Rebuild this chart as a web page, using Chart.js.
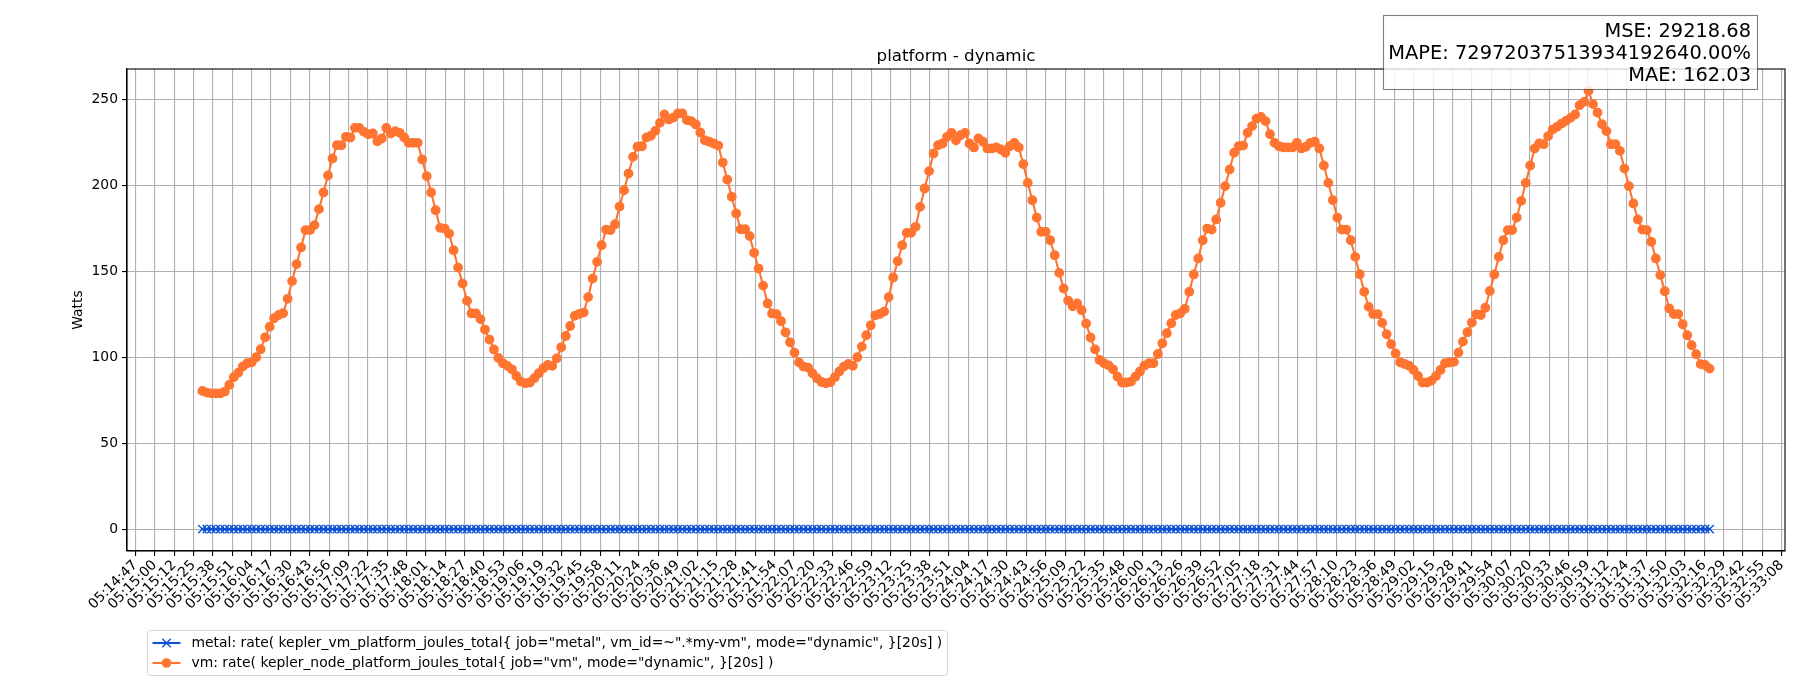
<!DOCTYPE html>
<html>
<head>
<meta charset="utf-8">
<title>platform - dynamic</title>
<script src="https://cdn.jsdelivr.net/npm/chart.js@4.4.1/dist/chart.umd.min.js"></script>
<style>
  html, body { margin: 0; padding: 0; background: #fff; }
  canvas { display: block; }
</style>
</head>
<body>
<canvas id="chart" width="1800" height="700"></canvas>
<script>
// Both series come from the same range query: one sample every 3 s
const sampleStart = '05:15:31.8';
const sampleStep = 3;

// vm: rate(kepler_node_platform_joules_total) in Watts
const vmWatts = [
    80.4, 79.4, 79, 79, 79, 80, 83.9, 88.4, 91, 94.6, 96.5, 97, 100, 104.7, 111.6, 117.8, 122.7, 124.6, 125.6, 134,
    144.3, 154.2, 163.9, 174, 174, 176.9, 186.2, 195.9, 205.8, 215.7, 223.4, 223.4, 228.3, 227.9, 233.5, 233.5, 231.2, 229.8, 230.2, 225.7,
    227.3, 233.5, 230.2, 231.6, 230.6, 227.9, 224.8, 224.8, 224.8, 215.1, 205.4, 195.9, 185.6, 175.3, 174.9, 172, 162.3, 152.2, 142.9, 132.8,
    125.5, 125.5, 122.2, 116.1, 110.3, 104.5, 99.6, 96.5, 95, 93, 89.1, 85.8, 84.9, 85.3, 87.8, 90.7, 93.6, 95.5, 95, 99.4,
    105.8, 112.4, 118.2, 124.1, 125.2, 126, 135, 145.8, 155.5, 165.2, 174.3, 174, 177.4, 187.7, 197.2, 206.9, 216.6, 222.5, 222.8, 227.9,
    228.9, 231.8, 236.4, 241.3, 238.4, 239.5, 241.9, 241.9, 238, 237.4, 235.5, 230.8, 226.3, 225.4, 224.4, 223.2, 213.3, 203.4, 193.4, 183.7,
    174.5, 174.5, 170.5, 160.8, 151.6, 141.7, 131.3, 125.5, 125.1, 121, 114.5, 108.7, 102.7, 97, 94.6, 94, 90.7, 87.8, 85.6, 84.9,
    85.5, 88.4, 91.7, 94.6, 96.1, 95, 100, 106.2, 112.8, 118.6, 124.4, 125.2, 126.6, 135, 146.4, 155.9, 165.2, 172.4, 172.4, 175.9,
    187.5, 198.2, 208.3, 218.6, 223.4, 224.4, 228.3, 230.6, 226.3, 229.2, 230.6, 224.4, 222.1, 227.3, 225.4, 221.5, 221.5, 222.1, 220.9, 219,
    222.8, 224.8, 222.1, 212.4, 201.5, 191.4, 181.3, 173, 173, 168.1, 159.4, 149.1, 140, 133, 129.7, 131.3, 127.4, 119.6, 111.5, 104.6,
    98.4, 96.5, 95.3, 93, 88.7, 85.3, 85.3, 85.8, 88.7, 91.7, 95.1, 96.5, 96.5, 101.9, 108.1, 114, 119.8, 124.6, 125.6, 128.2,
    138.1, 148.2, 157.5, 168.1, 174.9, 174.3, 180.2, 189.9, 199.6, 209.3, 219, 222.8, 223.2, 230.6, 234.5, 238.9, 239.9, 237.4, 229.8, 224.8,
    222.8, 222.1, 222.1, 222.1, 224.8, 221.5, 222.5, 224.8, 225.4, 221.5, 211.6, 201.5, 191.4, 181.3, 174.3, 174.3, 168.1, 158.4, 148.3, 138.1,
    129.3, 125.1, 125.1, 120, 113.4, 107.6, 102.2, 97.1, 96.1, 95.1, 92.6, 89.1, 85.3, 85.3, 86.4, 89.1, 92.6, 96.5, 96.9, 97.3,
    102.7, 109.1, 114.6, 120.2, 125, 124.6, 128.8, 138.6, 148.2, 158.4, 168.1, 174, 174, 181.3, 191, 201.5, 211.6, 221.5, 224.4, 224,
    228.7, 232.5, 234.1, 236, 237.6, 239.3, 241.3, 246.7, 248.6, 255, 247.3, 242.4, 235.6, 231.6, 224, 224, 220.1, 209.8, 199.6, 189.5,
    180.2, 174.3, 174, 167.2, 157.5, 147.8, 138.4, 128.4, 125.1, 125.1, 119.2, 112.8, 107, 101.8, 96, 95.5, 93.4
];

// metal: rate(kepler_vm_platform_joules_total) in Watts (flat zero)
const metalWatts = [
    0, 0, 0, 0, 0, 0, 0, 0, 0, 0, 0, 0, 0, 0, 0, 0, 0, 0, 0, 0,
    0, 0, 0, 0, 0, 0, 0, 0, 0, 0, 0, 0, 0, 0, 0, 0, 0, 0, 0, 0,
    0, 0, 0, 0, 0, 0, 0, 0, 0, 0, 0, 0, 0, 0, 0, 0, 0, 0, 0, 0,
    0, 0, 0, 0, 0, 0, 0, 0, 0, 0, 0, 0, 0, 0, 0, 0, 0, 0, 0, 0,
    0, 0, 0, 0, 0, 0, 0, 0, 0, 0, 0, 0, 0, 0, 0, 0, 0, 0, 0, 0,
    0, 0, 0, 0, 0, 0, 0, 0, 0, 0, 0, 0, 0, 0, 0, 0, 0, 0, 0, 0,
    0, 0, 0, 0, 0, 0, 0, 0, 0, 0, 0, 0, 0, 0, 0, 0, 0, 0, 0, 0,
    0, 0, 0, 0, 0, 0, 0, 0, 0, 0, 0, 0, 0, 0, 0, 0, 0, 0, 0, 0,
    0, 0, 0, 0, 0, 0, 0, 0, 0, 0, 0, 0, 0, 0, 0, 0, 0, 0, 0, 0,
    0, 0, 0, 0, 0, 0, 0, 0, 0, 0, 0, 0, 0, 0, 0, 0, 0, 0, 0, 0,
    0, 0, 0, 0, 0, 0, 0, 0, 0, 0, 0, 0, 0, 0, 0, 0, 0, 0, 0, 0,
    0, 0, 0, 0, 0, 0, 0, 0, 0, 0, 0, 0, 0, 0, 0, 0, 0, 0, 0, 0,
    0, 0, 0, 0, 0, 0, 0, 0, 0, 0, 0, 0, 0, 0, 0, 0, 0, 0, 0, 0,
    0, 0, 0, 0, 0, 0, 0, 0, 0, 0, 0, 0, 0, 0, 0, 0, 0, 0, 0, 0,
    0, 0, 0, 0, 0, 0, 0, 0, 0, 0, 0, 0, 0, 0, 0, 0, 0, 0, 0, 0,
    0, 0, 0, 0, 0, 0, 0, 0, 0, 0, 0, 0, 0, 0, 0, 0, 0, 0, 0, 0,
    0, 0, 0, 0, 0, 0, 0, 0, 0, 0, 0, 0, 0, 0, 0, 0, 0
];

// x tick labels (evenly spaced between first and last)
const xTickLabels = [
    '05:14:47', '05:15:00', '05:15:12', '05:15:25', '05:15:38', '05:15:51', '05:16:04', '05:16:17', '05:16:30', '05:16:43',
    '05:16:56', '05:17:09', '05:17:22', '05:17:35', '05:17:48', '05:18:01', '05:18:14', '05:18:27', '05:18:40', '05:18:53',
    '05:19:06', '05:19:19', '05:19:32', '05:19:45', '05:19:58', '05:20:11', '05:20:24', '05:20:36', '05:20:49', '05:21:02',
    '05:21:15', '05:21:28', '05:21:41', '05:21:54', '05:22:07', '05:22:20', '05:22:33', '05:22:46', '05:22:59', '05:23:12',
    '05:23:25', '05:23:38', '05:23:51', '05:24:04', '05:24:17', '05:24:30', '05:24:43', '05:24:56', '05:25:09', '05:25:22',
    '05:25:35', '05:25:48', '05:26:00', '05:26:13', '05:26:26', '05:26:39', '05:26:52', '05:27:05', '05:27:18', '05:27:31',
    '05:27:44', '05:27:57', '05:28:10', '05:28:23', '05:28:36', '05:28:49', '05:29:02', '05:29:15', '05:29:28', '05:29:41',
    '05:29:54', '05:30:07', '05:30:20', '05:30:33', '05:30:46', '05:30:59', '05:31:12', '05:31:24', '05:31:37', '05:31:50',
    '05:32:03', '05:32:16', '05:32:29', '05:32:42', '05:32:55', '05:33:08'
];
const yTickValues = [0, 50, 100, 150, 200, 250];

const seriesNames = [
    'metal: rate( kepler_vm_platform_joules_total{ job="metal", vm_id=~".*my-vm", mode="dynamic", }[20s] )',
    'vm: rate( kepler_node_platform_joules_total{ job="vm", mode="dynamic", }[20s] )'
];
const statLines = ['MSE: 29218.68', 'MAPE: 72972037513934192640.00%', 'MAE: 162.03'];
const chartTitle = 'platform - dynamic';
const yTitle = 'Watts';

const FONT = '"DejaVu Sans", sans-serif';
const BLUE = '#0f52d4';
const ORANGE = '#ff7430';

function toSeconds(hms) {
    const parts = hms.split(':');
    return (+parts[0]) * 3600 + (+parts[1]) * 60 + parseFloat(parts[2]);
}

function toPoints(values) {
    const t0 = toSeconds(sampleStart);
    return values.map((v, i) => ({ x: t0 + i * sampleStep, y: v }));
}

// matplotlib-like autoscale: 5% margins around the data
const tFirst = toSeconds(sampleStart);
const tLast = tFirst + (vmWatts.length - 1) * sampleStep;
const xMargin = (tLast - tFirst) * 0.05;
const yLow = Math.min(...vmWatts, ...metalWatts);
const yHigh = Math.max(...vmWatts, ...metalWatts);
const yMargin = (yHigh - yLow) * 0.05;

const tickFirst = toSeconds(xTickLabels[0]);
const tickLast = toSeconds(xTickLabels[xTickLabels.length - 1]);
const xTickValues = xTickLabels.map((_, i) => tickFirst + i * (tickLast - tickFirst) / (xTickLabels.length - 1));

// Frame, title, axis label, stats box and legend, drawn like matplotlib
const decorations = {
    id: 'decorations',
    afterDraw(chart) {
        const ctx = chart.ctx;
        const area = chart.chartArea;
        ctx.save();

        // full frame around the axes
        ctx.strokeStyle = '#000';
        ctx.lineWidth = 1.1;
        ctx.strokeRect(area.left, area.top, area.right - area.left, area.bottom - area.top);

        // title
        ctx.fillStyle = '#000';
        ctx.font = '16.7px ' + FONT;
        ctx.textAlign = 'center';
        ctx.textBaseline = 'alphabetic';
        ctx.fillText(chartTitle, (area.left + area.right) / 2, area.top - 8);

        // y axis label
        ctx.save();
        ctx.translate(78, (area.top + area.bottom) / 2);
        ctx.rotate(-Math.PI / 2);
        ctx.font = '13.9px ' + FONT;
        ctx.textAlign = 'center';
        ctx.textBaseline = 'middle';
        ctx.fillText(yTitle, 0, 0);
        ctx.restore();

        // stats box (top right)
        ctx.fillStyle = 'rgba(255, 255, 255, 0.8)';
        ctx.fillRect(1383.5, 15.5, 374, 74);
        ctx.strokeStyle = 'rgba(0, 0, 0, 0.5)';
        ctx.lineWidth = 1.1;
        ctx.strokeRect(1383.5, 15.5, 374, 74);
        ctx.fillStyle = '#000';
        ctx.font = '19.4px ' + FONT;
        ctx.textAlign = 'right';
        ctx.textBaseline = 'alphabetic';
        statLines.forEach((line, i) => ctx.fillText(line, 1751, 37 + i * 22));

        // legend (below the axes)
        ctx.beginPath();
        ctx.roundRect(147.5, 630.5, 800, 45, 3);
        ctx.fillStyle = 'rgba(255, 255, 255, 0.8)';
        ctx.fill();
        ctx.strokeStyle = 'rgba(204, 204, 204, 0.8)';
        ctx.lineWidth = 1;
        ctx.stroke();

        const colors = [BLUE, ORANGE];
        ctx.font = '13.9px ' + FONT;
        ctx.textAlign = 'left';
        ctx.textBaseline = 'middle';
        seriesNames.forEach((name, i) => {
            const y = 643 + i * 20;
            ctx.strokeStyle = colors[i];
            ctx.lineWidth = 2.1;
            ctx.beginPath();
            ctx.moveTo(152.5, y);
            ctx.lineTo(180.5, y);
            ctx.stroke();
            if (i === 0) {
                ctx.lineWidth = 1.4;
                ctx.beginPath();
                ctx.moveTo(162.3, y - 4.2); ctx.lineTo(170.7, y + 4.2);
                ctx.moveTo(162.3, y + 4.2); ctx.lineTo(170.7, y - 4.2);
                ctx.stroke();
            } else {
                ctx.fillStyle = colors[i];
                ctx.beginPath();
                ctx.arc(166.5, y, 4.8, 0, Math.PI * 2);
                ctx.fill();
            }
            ctx.fillStyle = '#000';
            ctx.fillText(name, 191.5, y);
        });

        ctx.restore();
    }
};

new Chart(document.getElementById('chart'), {
    type: 'line',
    data: {
        datasets: [
            {
                label: seriesNames[0],
                data: toPoints(metalWatts),
                borderColor: BLUE,
                backgroundColor: BLUE,
                borderWidth: 2.1,
                pointStyle: 'crossRot',
                pointRadius: 5.9,
                pointBorderWidth: 1.4,
                pointBorderColor: BLUE,
                tension: 0
            },
            {
                label: seriesNames[1],
                data: toPoints(vmWatts),
                borderColor: ORANGE,
                backgroundColor: ORANGE,
                borderWidth: 2.1,
                pointStyle: 'circle',
                pointRadius: 4.2,
                pointBorderWidth: 1.4,
                pointBorderColor: ORANGE,
                pointBackgroundColor: ORANGE,
                tension: 0
            }
        ]
    },
    options: {
        responsive: false,
        devicePixelRatio: 1,
        animation: false,
        events: [],
        layout: { padding: { left: 0, top: 69, right: 15, bottom: 0 } },
        plugins: {
            legend: { display: false },
            title: { display: false },
            tooltip: { enabled: false }
        },
        scales: {
            x: {
                type: 'linear',
                min: tFirst - xMargin,
                max: tLast + xMargin,
                afterBuildTicks: (scale) => {
                    scale.ticks = xTickValues.map(v => ({ value: v }));
                },
                afterFit: (scale) => { scale.height = 149; },
                ticks: {
                    autoSkip: false,
                    minRotation: 45,
                    maxRotation: 45,
                    padding: 1,
                    color: '#000',
                    font: { family: FONT, size: 13.9 },
                    callback: (value, index) => xTickLabels[index]
                },
                grid: {
                    color: '#b0b0b0',
                    lineWidth: 1.1,
                    tickColor: '#000',
                    tickLength: 5
                },
                border: { display: true, color: '#000', width: 1.1 }
            },
            y: {
                min: yLow - yMargin,
                max: yHigh + yMargin,
                afterBuildTicks: (scale) => {
                    scale.ticks = yTickValues.map(v => ({ value: v }));
                },
                afterFit: (scale) => { scale.width = 127; },
                ticks: {
                    padding: 4,
                    color: '#000',
                    font: { family: FONT, size: 13.9 },
                    callback: (value) => String(value)
                },
                grid: {
                    color: '#b0b0b0',
                    lineWidth: 1.1,
                    tickColor: '#000',
                    tickLength: 5
                },
                border: { display: true, color: '#000', width: 1.1 }
            }
        }
    },
    plugins: [decorations]
});
</script>
</body>
</html>
